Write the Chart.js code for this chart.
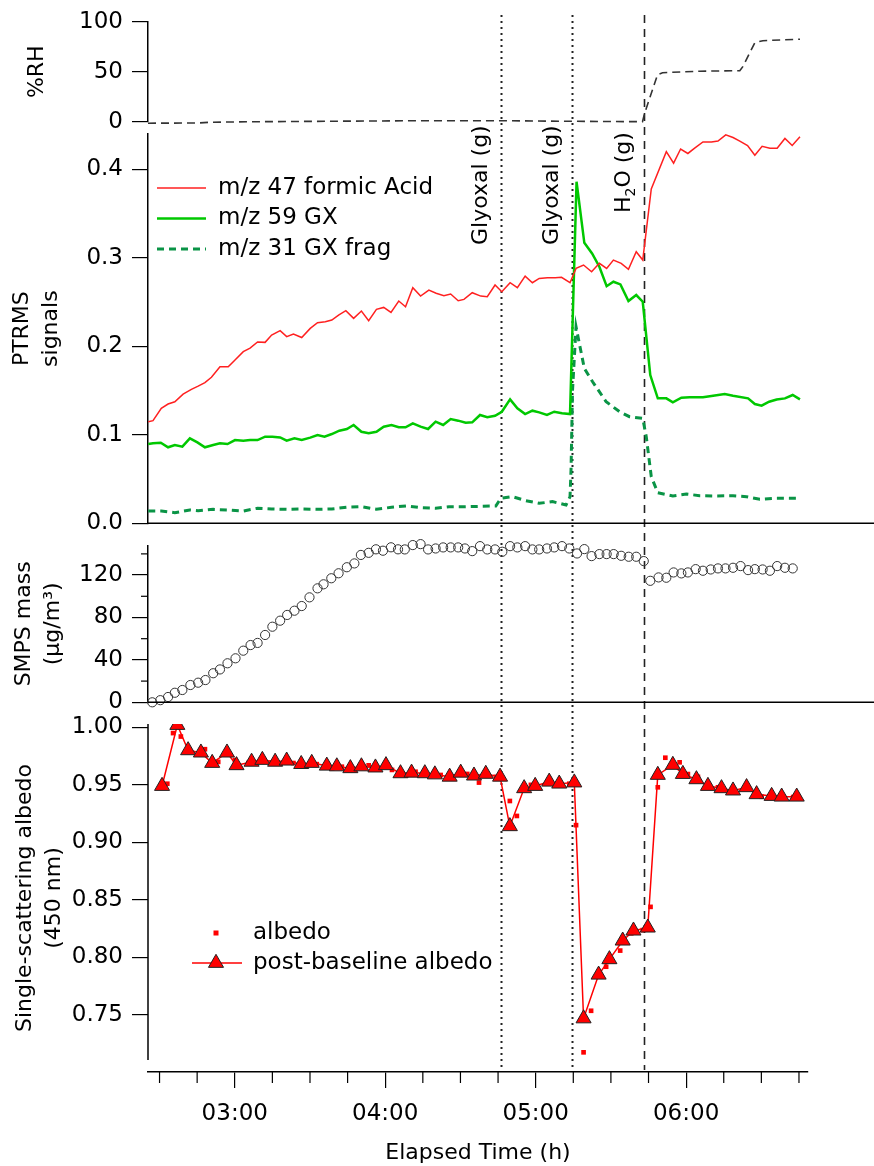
<!DOCTYPE html>
<html>
<head>
<meta charset="utf-8">
<script src="https://cdn.jsdelivr.net/npm/chart.js@4.4.1/dist/chart.umd.min.js"></script>
<style>
    body { margin: 0; background: #fff; }
    #wrap { position: relative; width: 874px; height: 1166px; }
    #wrap canvas { position: absolute; left: 0; top: 0; }
</style>
</head>
<body>
<div id="wrap">
    <canvas id="albedoChart" width="874" height="1166"></canvas>
    <canvas id="smpsChart" width="874" height="1166"></canvas>
    <canvas id="ptrmsChart" width="874" height="1166"></canvas>
    <canvas id="rhChart" width="874" height="1166"></canvas>
</div>
<script>
// elapsed time is in minutes (03:00 = 180)
const X_MIN = 145.4, X_MAX = 408.6;
const hourTicks = [180, 240, 300, 360];
const minorTimeTicks = [150, 165, 195, 210, 225, 255, 270, 285, 315, 330, 345, 375, 390, 405];

const eventTime = [286.2, 314.4, 343.0];
const eventLabel = ['Glyoxal (g)', 'Glyoxal (g)', 'H2O (g)'];

// %RH
const rhTime = [145.4, 165.4, 170.6, 189.4, 221.4, 253.4, 285.4, 309.4, 342.6, 343.4, 348.6, 350.6, 365.4, 381.4, 382.6, 387.4, 390.6, 405.4];
const rhVal = [-1.5, -1.3, -0.5, 0, 0.5, 1, 1, 0.5, 0, 8, 47, 49, 50.5, 51, 55, 79, 81, 82.5];
const rhTicks = [0, 50, 100];

// PTRMS m/z 47 formic acid
const faTime = [145.5, 147.4, 150.7, 153.4, 156.1, 159.4, 162.7, 165.4, 168.1, 170.7,
    174.1, 177.4, 180.1, 183.4, 186.1, 189.1, 192.1, 194.7, 198.1, 200.7,
    203.4, 206.7, 210.1, 213.0, 216.1, 218.7, 221.4, 224.3, 227.4, 230.5,
    233.4, 236.5, 239.4, 242.3, 245.4,
    248.1, 251.0, 254.1, 257.4, 260.3, 263.4, 266.1, 269.1, 271.4, 274.7,
    278.1, 280.7, 283.8, 286.5, 289.8, 292.7, 295.8, 298.7, 301.4, 304.7,
    307.8, 310.3, 313.7, 316.1, 319.1, 322.3, 325.4, 328.3, 331.0, 334.1,
    337.0, 340.1, 342.7,
    346.1, 352.1, 355.0, 357.8, 360.7, 363.4, 366.7, 370.1, 372.7, 375.8,
    378.7, 381.4, 384.5, 387.4, 390.3, 393.4, 396.3, 399.4, 402.3, 405.4];
const faVal = [0.1148, 0.116, 0.130, 0.1348, 0.1374, 0.146, 0.1514, 0.155, 0.159, 0.165,
    0.177, 0.177, 0.1845, 0.194, 0.198, 0.205, 0.2045, 0.2128, 0.2177, 0.211,
    0.214, 0.210, 0.2203, 0.2267, 0.2278, 0.2297, 0.2354, 0.2403, 0.2316, 0.2399,
    0.229, 0.2418, 0.244, 0.2384, 0.2512,
    0.2448, 0.2663, 0.2568, 0.2636, 0.260, 0.2572, 0.2591, 0.2516, 0.2531, 0.2606,
    0.2568, 0.2561, 0.2693, 0.2617, 0.2719, 0.2663, 0.2794, 0.2719, 0.2768, 0.2776,
    0.2776, 0.278, 0.2719, 0.2881, 0.2919, 0.2843, 0.2938, 0.2881, 0.2975, 0.2938,
    0.287, 0.3069, 0.2975,
    0.378, 0.420, 0.407, 0.423, 0.418, 0.424, 0.431, 0.431, 0.432, 0.439,
    0.436, 0.432, 0.427, 0.416, 0.426, 0.424, 0.424, 0.435, 0.427, 0.437];

// PTRMS m/z 59 GX
const gxTime = [145.5, 147.4, 150.5, 153.4, 156.1, 159.1, 162.1, 165.1, 168.1, 171.4,
    174.1, 177.1, 180.1, 183.4, 186.1, 189.1, 192.1, 195.0, 198.1, 200.7,
    203.8, 206.7, 210.1, 213.0, 215.8, 218.7, 221.7, 224.7, 227.4, 230.5,
    233.4, 236.5, 239.4, 242.5,
    245.4, 248.1, 251.0, 254.1, 257.1, 260.1, 263.1, 266.1, 269.1, 272.1,
    274.7, 277.8, 280.7, 283.8, 286.5, 289.8, 292.7, 295.8, 298.7, 301.4,
    304.5, 307.4, 310.5, 313.7,
    316.3, 319.4, 322.5, 325.4, 328.3, 331.0, 333.8, 337.0, 340.1, 342.7,
    345.7, 348.7, 352.1, 354.7, 358.1, 361.4, 366.7, 370.1, 375.4, 378.7,
    384.7, 387.4, 390.1, 393.1, 396.1, 399.4, 402.5, 405.4];
const gxVal = [0.0896, 0.0904, 0.0911, 0.0859, 0.0885, 0.0866, 0.096, 0.0915, 0.0859, 0.0885,
    0.0904, 0.0896, 0.0941, 0.0934, 0.0941, 0.0941, 0.0979, 0.0979, 0.0971, 0.0934,
    0.096, 0.0941, 0.0968, 0.0998, 0.0979, 0.1009, 0.1047, 0.1066, 0.1111, 0.1035,
    0.1017, 0.1035, 0.1092, 0.1111,
    0.1085, 0.1085, 0.113, 0.1092, 0.1066, 0.1149, 0.1111, 0.1179, 0.116, 0.1137,
    0.1141, 0.1224, 0.1198, 0.1216, 0.1261, 0.1401, 0.130, 0.1235, 0.1273, 0.1254,
    0.1224, 0.1261, 0.1243, 0.1235,
    0.386, 0.317, 0.305, 0.290, 0.268, 0.273, 0.270, 0.2512, 0.258, 0.2504,
    0.1676, 0.1412, 0.1412, 0.1367, 0.142, 0.1424, 0.1424, 0.1439, 0.1461, 0.1442,
    0.1412, 0.1348, 0.1329, 0.1374, 0.14, 0.1412, 0.145, 0.14];

// PTRMS m/z 31 GX fragment
const fragTime = [145.5, 150.7, 156.1, 162.1, 165.4, 171.4, 177.4, 183.4, 189.1, 194.7,
    200.7, 206.7, 212.7, 218.7, 224.7, 230.5, 236.5, 242.5, 248.3, 254.1,
    260.1, 265.4, 272.1, 284.1, 286.1, 290.7, 296.1, 301.4, 306.7, 312.1,
    313.7, 314.1, 314.7, 316.1, 317.4, 319.4, 322.7, 328.1, 333.4, 337.4,
    342.7, 344.1, 346.1, 348.7, 354.7, 360.1, 365.4, 370.7, 378.7, 384.1,
    389.4, 394.7, 400.1, 405.4];
const fragVal = [0.0139, 0.0139, 0.012, 0.015, 0.0143, 0.0158, 0.015, 0.0139, 0.017, 0.0162,
    0.0158, 0.0162, 0.0158, 0.0162, 0.0181, 0.0188, 0.0158, 0.0181, 0.0196, 0.0177,
    0.017, 0.0188, 0.0188, 0.0196, 0.0282, 0.0301, 0.0256, 0.0226, 0.0245, 0.0207,
    0.0301, 0.0602, 0.1506, 0.2222, 0.2034, 0.1751, 0.16, 0.1374, 0.1262, 0.1205,
    0.1186, 0.0979, 0.0527, 0.0346, 0.0309, 0.0331, 0.0312, 0.0309, 0.0312, 0.0301,
    0.0271, 0.0282, 0.0282, 0.0282];
const ptrmsTicks = [0, 0.1, 0.2, 0.3, 0.4];

// SMPS mass
const smpsTime = [147.1, 150.3, 153.4, 156.1, 159.1, 162.3, 165.4, 168.3, 171.4, 174.1,
    177.1, 180.3, 183.4, 186.3, 189.1, 192.1, 195.0, 198.1, 200.9, 203.8,
    206.7, 209.8, 213.0, 215.4, 218.5, 221.4, 224.7, 227.7, 230.3, 233.4,
    236.3, 239.1, 242.3, 245.1,
    247.8, 251.0, 254.1, 257.1, 260.1, 263.1, 266.1, 269.1, 271.8, 274.7,
    277.8, 280.7, 283.8, 286.7, 289.8, 292.7, 295.8, 298.7, 301.4, 304.5,
    307.4, 310.5, 313.4, 316.5, 319.4, 322.3, 325.4, 328.3, 331.1, 334.1,
    337.1, 340.1, 343.1, 345.7, 349.0, 352.1, 355.0, 358.1, 360.7, 363.8,
    366.7, 369.8, 372.7, 375.7, 378.7, 381.7, 384.7, 387.4, 390.5, 393.4,
    396.3, 399.4, 402.5];
const smpsVal = [0, 2, 5, 9, 11.6, 16.3, 18.5, 21, 27.4, 31,
    36.8, 41.5, 48.7, 54, 56, 63.5, 71.3, 77, 82.4, 86.4,
    90.8, 99, 107.5, 111.3, 117, 121.7, 127.4, 131, 139, 141,
    144.3, 143, 146.2, 144.3,
    144.2, 148.3, 149.2, 144.2, 145.1, 146.1, 146.1, 146.1, 145.1, 142.6,
    147.3, 144.2, 144.2, 142, 147.3, 146.1, 147.3, 144.2, 144.2, 145.1,
    146.1, 147.3, 145.1, 140.4, 144.5, 137.9, 139.8, 139.8, 139.8, 138.2,
    137.3, 137.3, 133.2, 114.6, 117.8, 117.5, 122.5, 121.6, 122.5, 125.6,
    124.1, 125.3, 126.3, 126.3, 126.9, 128.5, 124.7, 125.6, 125.3, 124.1,
    128.5, 126.9, 126.3];
const smpsTicks = [0, 40, 80, 120];
const smpsMinorTicks = [20, 60, 100, 140];

// single-scattering albedo, post-baseline (triangles) and raw (squares)
const pbTime = [151.0, 157.1, 161.4, 166.5, 171.0, 176.9, 180.7, 186.7, 191.0, 196.1,
    200.7, 206.5, 210.7, 216.7, 220.7, 226.1, 230.5, 236.1, 240.3, 246.1,
    250.5, 255.8, 259.8, 265.7, 270.1, 275.4, 280.1, 285.8, 289.7, 295.4,
    299.8, 305.4, 309.4, 315.4, 319.1, 325.1, 329.4, 334.7, 339.0, 344.7,
    348.7, 354.7, 358.7, 364.1, 368.7, 374.1, 378.7, 384.1, 388.1, 394.1,
    398.1, 404.1];
const pbVal = [0.949, 1.002, 0.980, 0.978, 0.969, 0.978, 0.967, 0.970, 0.9716, 0.970,
    0.971, 0.968, 0.969, 0.9666, 0.966, 0.9644, 0.966, 0.965, 0.967, 0.960,
    0.9605, 0.960, 0.959, 0.957, 0.9605, 0.958, 0.9595, 0.957, 0.914, 0.947,
    0.949, 0.9527, 0.951, 0.952, 0.747, 0.785, 0.7984, 0.8146, 0.8233, 0.8259,
    0.9586, 0.9673, 0.9594, 0.9548, 0.949, 0.947, 0.945, 0.9479, 0.9418, 0.9403,
    0.9397, 0.9397];
const abTime = [153.1, 155.4, 158.5, 168.1, 173.4, 180.1, 185.4, 194.7, 203.4, 212.7,
    222.7, 233.4, 242.7, 252.1, 262.1, 272.7, 277.4, 284.1, 289.7, 292.5,
    298.1, 313.4, 316.1, 319.1, 322.1, 328.1, 333.7, 338.1, 342.7, 345.8,
    348.7, 351.7, 357.4, 360.7, 364.7, 372.7, 378.7, 390.1, 398.1, 402.7];
const abVal = [0.951, 0.995, 0.992, 0.981, 0.970, 0.9716, 0.969, 0.9693, 0.969, 0.968,
    0.9658, 0.967, 0.963, 0.9614, 0.9586, 0.9595, 0.952, 0.957, 0.936, 0.923,
    0.950, 0.951, 0.915, 0.7176, 0.7537, 0.792, 0.806, 0.821, 0.8238, 0.844,
    0.9479, 0.9736, 0.9696, 0.9594, 0.957, 0.9479, 0.946, 0.9397, 0.9394, 0.9394];
const albedoTicks = [0.75, 0.80, 0.85, 0.90, 0.95, 1.00];
const albedoAxisEnd = 0.711;

Chart.defaults.font.family = "'DejaVu Sans', sans-serif";
Chart.defaults.color = '#000';

const W = 874, H = 1166;
const AXIS_LEFT = 148, PLOT_RIGHT = 808, TIME_AXIS_Y = 1072;
const FONT = "'DejaVu Sans', sans-serif";

const pts = (t, v) => t.map((x, i) => ({x: x, y: v[i]}));

const fmtTime = (m) => {
    const h = Math.floor(m / 60);
    const mm = Math.round(m - h * 60);
    return `${String(h).padStart(2, '0')}:${String(mm).padStart(2, '0')}`;
};

const xAxis = (show) => ({
    type: 'linear',
    min: X_MIN,
    max: X_MAX,
    display: show,
    afterFit: (s) => {
        if (!show) return;
        s.height = H - TIME_AXIS_Y;
        s.paddingLeft = 0;
        s.paddingRight = 0;
    },
    afterBuildTicks: (s) => { s.ticks = hourTicks.map(v => ({value: v})); },
    border: {display: true, color: '#000', width: 1.5},
    grid: {drawOnChartArea: false, tickLength: 16, color: '#000', lineWidth: 1.2},
    ticks: {padding: 12, font: {size: 23}, autoSkip: false, maxRotation: 0, callback: (v) => fmtTime(v)},
    title: {display: true, text: 'Elapsed Time (h)', font: {size: 22}, padding: {top: 0, bottom: 0}}
});

const yAxis = (min, max, ticks, fmt, title, titlePad, showBorder) => ({
    type: 'linear',
    min: min,
    max: max,
    afterFit: (s) => { s.width = AXIS_LEFT; s.paddingTop = 0; s.paddingBottom = 0; },
    afterBuildTicks: (s) => { s.ticks = ticks.map(v => ({value: v})); },
    border: {display: showBorder, color: '#000', width: 1.5},
    grid: {drawOnChartArea: false, tickLength: 16, color: '#000', lineWidth: 1.2},
    ticks: {padding: 9, font: {size: 23}, callback: (v) => fmt(v)},
    title: {display: true, text: title, font: {size: 22, lineHeight: 1.35}, padding: {top: titlePad, bottom: 0}}
});

const chartOptions = (top, bottom, yScale, showX) => ({
    responsive: false,
    animation: false,
    events: [],
    layout: {padding: {left: 0, right: W - PLOT_RIGHT, top: top, bottom: bottom}},
    plugins: {legend: {display: false}, tooltip: {enabled: false}},
    scales: {x: xAxis(showX), y: yScale}
});

// rotated label, digits drawn as subscripts (H2O)
const drawRotatedLabel = (ctx, text, x, yBottom) => {
    ctx.save();
    ctx.translate(x, yBottom);
    ctx.rotate(-Math.PI / 2);
    ctx.textAlign = 'left';
    ctx.textBaseline = 'middle';
    let cx = 0;
    text.split(/(\d)/).filter(p => p.length).forEach((part) => {
        const sub = /^\d$/.test(part);
        ctx.font = sub ? `14px ${FONT}` : `22px ${FONT}`;
        ctx.fillText(part, cx, sub ? 7 : 0);
        cx += ctx.measureText(part).width;
    });
    ctx.restore();
};

const baseLine = (chart) => {
    const ctx = chart.ctx, a = chart.chartArea;
    ctx.save();
    ctx.strokeStyle = '#000';
    ctx.lineWidth = 1.5;
    ctx.beginPath();
    ctx.moveTo(a.left, a.bottom);
    ctx.lineTo(W, a.bottom);
    ctx.stroke();
    ctx.restore();
};

/* ---------- albedo (bottom panel, also draws the event lines) ---------- */
const albedoDecor = {
    id: 'albedoDecor',
    beforeDatasetsDraw: (chart) => {
        const ctx = chart.ctx, xs = chart.scales.x, ys = chart.scales.y, a = chart.chartArea;
        ctx.save();
        ctx.strokeStyle = '#000';
        ctx.lineWidth = 1.5;
        ctx.beginPath();
        ctx.moveTo(a.left, a.top);
        ctx.lineTo(a.left, ys.getPixelForValue(albedoAxisEnd));
        ctx.stroke();

        ctx.lineWidth = 1.2;
        minorTimeTicks.forEach((t) => {
            const x = xs.getPixelForValue(t);
            ctx.beginPath();
            ctx.moveTo(x, a.bottom);
            ctx.lineTo(x, a.bottom + 11);
            ctx.stroke();
        });

        eventTime.forEach((t, i) => {
            const x = Math.round(xs.getPixelForValue(t)) + 0.5;
            const water = eventLabel[i].startsWith('H');
            ctx.strokeStyle = '#222';
            ctx.lineWidth = water ? 1.6 : 2;
            ctx.setLineDash(water ? [8, 6] : [2, 4]);
            ctx.beginPath();
            ctx.moveTo(x, 15);
            ctx.lineTo(x, a.bottom - 2);
            ctx.stroke();
            ctx.setLineDash([]);
            ctx.fillStyle = '#000';
            drawRotatedLabel(ctx, eventLabel[i], x - 20, water ? 213 : 245);
        });
        ctx.restore();
    },
    afterDraw: (chart) => {
        const ctx = chart.ctx;
        const raw = chart.data.datasets[1], pb = chart.data.datasets[0];
        ctx.save();
        ctx.font = `23px ${FONT}`;
        ctx.textBaseline = 'middle';
        ctx.fillStyle = raw.pointBackgroundColor;
        ctx.fillRect(213.5, 930.5, 5, 5);
        ctx.fillStyle = '#000';
        ctx.fillText(raw.label, 253, 933);

        ctx.strokeStyle = pb.borderColor;
        ctx.lineWidth = pb.borderWidth;
        ctx.beginPath();
        ctx.moveTo(192, 963);
        ctx.lineTo(242, 963);
        ctx.stroke();
        const r = pb.pointRadius;
        ctx.beginPath();
        ctx.moveTo(216, 963 - r);
        ctx.lineTo(216 + r * Math.sin(2 * Math.PI / 3), 963 + r / 2);
        ctx.lineTo(216 - r * Math.sin(2 * Math.PI / 3), 963 + r / 2);
        ctx.closePath();
        ctx.fillStyle = pb.pointBackgroundColor;
        ctx.fill();
        ctx.strokeStyle = pb.pointBorderColor;
        ctx.lineWidth = pb.pointBorderWidth;
        ctx.stroke();
        ctx.fillStyle = '#000';
        ctx.fillText(pb.label, 253, 963);
        ctx.restore();
    }
};

new Chart(document.getElementById('albedoChart'), {
    type: 'line',
    data: {
        datasets: [{
            label: 'post-baseline albedo',
            data: pts(pbTime, pbVal),
            borderColor: '#ff0000',
            borderWidth: 1.5,
            pointStyle: 'triangle',
            pointRadius: 8.7,
            pointBackgroundColor: '#ff0000',
            pointBorderColor: '#222',
            pointBorderWidth: 1,
            tension: 0
        }, {
            label: 'albedo',
            data: pts(abTime, abVal),
            showLine: false,
            pointStyle: 'rect',
            pointRadius: 3.3,
            pointBackgroundColor: '#ff0000',
            pointBorderWidth: 0
        }]
    },
    options: chartOptions(724, 0,
        yAxis(0.7005, 1.0029, albedoTicks, v => v.toFixed(2), ['Single-scattering albedo', '(450 nm)'], 10, false), true),
    plugins: [albedoDecor]
});

/* ---------- SMPS mass ---------- */
const smpsDecor = {
    id: 'smpsDecor',
    afterDraw: (chart) => {
        const ctx = chart.ctx, ys = chart.scales.y, a = chart.chartArea;
        baseLine(chart);
        ctx.save();
        ctx.strokeStyle = '#000';
        ctx.lineWidth = 1.2;
        smpsMinorTicks.forEach((v) => {
            const y = ys.getPixelForValue(v);
            ctx.beginPath();
            ctx.moveTo(a.left - 7, y);
            ctx.lineTo(a.left, y);
            ctx.stroke();
        });
        ctx.restore();
    }
};

new Chart(document.getElementById('smpsChart'), {
    type: 'line',
    data: {
        datasets: [{
            label: 'SMPS mass',
            data: pts(smpsTime, smpsVal),
            showLine: false,
            pointStyle: 'circle',
            pointRadius: 4.6,
            pointBackgroundColor: 'rgba(0,0,0,0)',
            pointBorderColor: '#333',
            pointBorderWidth: 1,
            clip: false
        }]
    },
    options: chartOptions(545.4, H - 702.3,
        yAxis(0, 148, smpsTicks, v => String(v), ['SMPS mass', '(µg/m³)'], 9, true), false),
    plugins: [smpsDecor]
});

/* ---------- PTRMS signals ---------- */
const ptrmsDecor = {
    id: 'ptrmsDecor',
    afterDraw: (chart) => {
        const ctx = chart.ctx;
        baseLine(chart);
        ctx.save();
        ctx.font = `23px ${FONT}`;
        ctx.textBaseline = 'middle';
        chart.data.datasets.forEach((ds, i) => {
            const y = 188 + i * 30.5;
            ctx.strokeStyle = ds.borderColor;
            ctx.lineWidth = ds.borderWidth;
            ctx.setLineDash(ds.borderDash || []);
            ctx.beginPath();
            ctx.moveTo(157, y);
            ctx.lineTo(206, y);
            ctx.stroke();
            ctx.setLineDash([]);
            ctx.fillStyle = '#000';
            ctx.fillText(ds.label, 218, y);
        });
        ctx.restore();
    }
};

new Chart(document.getElementById('ptrmsChart'), {
    type: 'line',
    data: {
        datasets: [{
            label: 'm/z 47 formic Acid',
            data: pts(faTime, faVal),
            borderColor: '#ff2020',
            borderWidth: 1.5,
            pointRadius: 0,
            tension: 0
        }, {
            label: 'm/z 59 GX',
            data: pts(gxTime, gxVal),
            borderColor: '#00c800',
            borderWidth: 2.5,
            pointRadius: 0,
            tension: 0
        }, {
            label: 'm/z 31 GX frag',
            data: pts(fragTime, fragVal),
            borderColor: '#0a9446',
            borderWidth: 3,
            borderDash: [7, 5],
            pointRadius: 0,
            tension: 0
        }]
    },
    options: chartOptions(134, H - 523.3,
        yAxis(0, 0.44, ptrmsTicks, v => v.toFixed(1), ['PTRMS', 'signals'], 7, true), false),
    plugins: [ptrmsDecor]
});

/* ---------- %RH ---------- */
new Chart(document.getElementById('rhChart'), {
    type: 'line',
    data: {
        datasets: [{
            label: '%RH',
            data: pts(rhTime, rhVal),
            borderColor: '#333',
            borderWidth: 1.6,
            borderDash: [8, 5],
            pointRadius: 0,
            tension: 0,
            clip: false
        }]
    },
    options: chartOptions(21.7, H - 121.7,
        yAxis(0, 100, rhTicks, v => String(v), '%RH', 22, true), false)
});
</script>
</body>
</html>
